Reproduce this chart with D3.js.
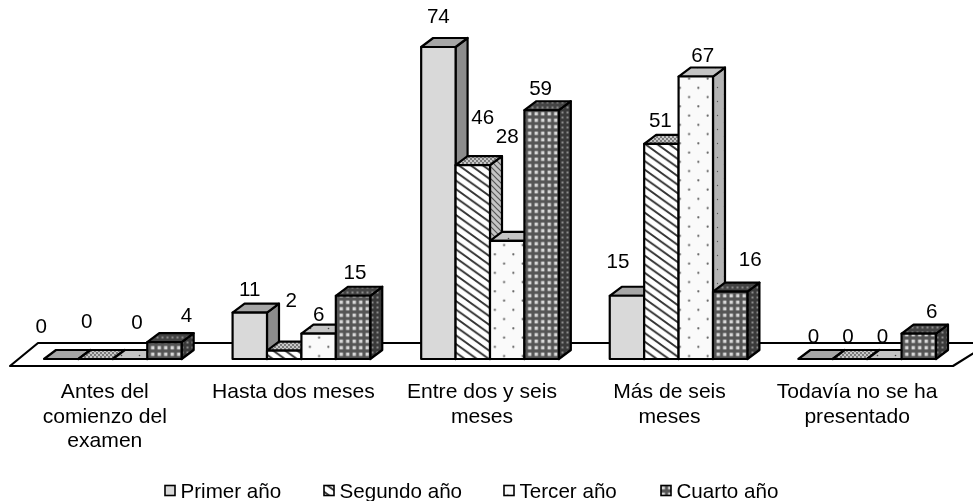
<!DOCTYPE html>
<html>
<head>
<meta charset="utf-8">
<script src="https://cdn.jsdelivr.net/npm/d3@7"></script>
<style>
  html, body { margin: 0; padding: 0; background: #fff; }
  svg { display: block; filter: blur(0.35px); }
  text { font-family: "Liberation Sans", Arial, sans-serif; fill: #000; }
</style>
</head>
<body>
<script>
const categories = [
  ["Antes del", "comienzo del", "examen"],
  ["Hasta dos meses"],
  ["Entre dos y seis", "meses"],
  ["Más de seis", "meses"],
  ["Todavía no se ha", "presentado"],
];
const seriesNames = ["Primer año", "Segundo año", "Tercer año", "Cuarto año"];
const primerAno = [0, 11, 74, 15, 0];
const segundoAno = [0, 2, 46, 51, 0];
const tercerAno = [0, 6, 28, 67, 0];
const cuartoAno = [4, 15, 59, 16, 6];
const seriesValues = [primerAno, segundoAno, tercerAno, cuartoAno];

const width = 973;
const height = 501;
const baseY = 359;
const topY = 47;
const depthX = 12;
const depthY = 9;
const fontSize = 20.6;

// label nudges from the top middle of each bar, [dx, dy] per series then category
const labelNudge = [
  [[-20, -33.5], [0, -24], [0, -31], [-9, -35], [-2, -23]],
  [[-9, -38], [7, -50.5], [10, -48.5], [-1, -24], [-2, -23]],
  [[7, -37], [0, -20], [0, -105], [7, -21.5], [-2, -23]],
  [[22, -27.5], [2, -24], [-1, -23], [20, -32.5], [13, -23]],
];
const categoryNudge = [-8, -8, -8, -9, -10];
const legendX = [164, 323, 503, 660];

const svg = d3.select("body").append("svg")
  .attr("width", width)
  .attr("height", height);

const defs = svg.append("defs");

function newPattern(id, w, h, bg) {
  const p = defs.append("pattern").attr("id", id)
    .attr("patternUnits", "userSpaceOnUse")
    .attr("width", w).attr("height", h);
  p.append("rect").attr("width", w).attr("height", h).attr("fill", bg);
  return p;
}
function hatch(id, bg, fg, w, h, sw) {
  newPattern(id, w, h, bg).append("path")
    .attr("d", `M0 0L${w} ${h}M${-w} 0L${w} ${2 * h}M0 ${-h}L${2 * w} ${h}`)
    .attr("stroke", fg).attr("stroke-width", sw);
}
function dots(id, bg, fg, size, r) {
  newPattern(id, size, size, bg)
    .selectAll("circle").data([[size / 4, size / 4], [3 * size / 4, 3 * size / 4]]).join("circle")
    .attr("cx", (d) => d[0]).attr("cy", (d) => d[1]).attr("r", r).attr("fill", fg);
}
function grid(id, bg, fg, size, hole) {
  newPattern(id, size, size, bg).append("rect")
    .attr("x", (size - hole) / 2).attr("y", (size - hole) / 2)
    .attr("width", hole).attr("height", hole).attr("fill", fg);
}

hatch("hatchFront", "#fff", "#333", 12, 8.6, 1.9);
hatch("hatchSide", "#c4c4c4", "#555", 6, 6, 1.2);
dots("stippleTop", "#c8c8c8", "#555", 4, 0.9);
dots("dotFront", "#fafafa", "#666", 18.5, 1.1);
dots("dotTop", "#c4c4c4", "#444", 18, 0.8);
dots("dotSide", "#b4b4b4", "#555", 14, 0.7);
grid("gridFront", "#555", "#d8d8d8", 6.5, 3.4);
grid("gridTop", "#444", "#8a8a8a", 5, 2);
grid("gridSide", "#3a3a3a", "#8c8c8c", 5, 2);

const seriesFill = [
  { front: "#d9d9d9", top: "#a6a6a6", side: "#8c8c8c" },
  { front: "url(#hatchFront)", top: "url(#stippleTop)", side: "url(#hatchSide)" },
  { front: "url(#dotFront)", top: "url(#dotTop)", side: "url(#dotSide)" },
  { front: "url(#gridFront)", top: "url(#gridTop)", side: "url(#gridSide)" },
];

const x0 = d3.scaleBand().domain(d3.range(categories.length)).range([44, 936]).paddingInner(0.27);
const x1 = d3.scaleBand().domain(d3.range(seriesNames.length)).range([0, x0.bandwidth()]);
const y = d3.scaleLinear().domain([0, 74]).range([baseY, topY]);

// floor
svg.append("path")
  .attr("d", `M10 366L38 343L990 343L953 366Z`)
  .attr("fill", "#fff")
  .attr("stroke", "#000")
  .attr("stroke-width", 2.2)
  .attr("stroke-linejoin", "round");

const bars = [];
categories.forEach((c, i) => {
  seriesValues.forEach((vals, s) => {
    bars.push({ i, s, v: vals[i] });
  });
});

const bar = svg.append("g").selectAll("g").data(bars).join("g")
  .attr("stroke", "#000")
  .attr("stroke-width", 2.2)
  .attr("stroke-linejoin", "round");

function barX(d) { return x0(d.i) + x1(d.s); }

bar.append("path") // side
  .attr("d", (d) => {
    const r = barX(d) + x1.bandwidth();
    return `M${r} ${y(d.v)}L${r + depthX} ${y(d.v) - depthY}L${r + depthX} ${baseY - depthY}L${r} ${baseY}Z`;
  })
  .attr("fill", (d) => seriesFill[d.s].side);

bar.append("path") // top
  .attr("d", (d) => {
    const l = barX(d);
    const r = l + x1.bandwidth();
    return `M${l} ${y(d.v)}L${l + depthX} ${y(d.v) - depthY}L${r + depthX} ${y(d.v) - depthY}L${r} ${y(d.v)}Z`;
  })
  .attr("fill", (d) => seriesFill[d.s].top);

bar.filter((d) => d.v > 0).append("rect") // front
  .attr("x", barX)
  .attr("y", (d) => y(d.v))
  .attr("width", x1.bandwidth())
  .attr("height", (d) => baseY - y(d.v))
  .attr("fill", (d) => seriesFill[d.s].front);

svg.append("g").selectAll("text").data(bars).join("text")
  .attr("x", (d) => barX(d) + x1.bandwidth() / 2 + labelNudge[d.s][d.i][0])
  .attr("y", (d) => y(d.v) + labelNudge[d.s][d.i][1])
  .attr("dy", "0.36em")
  .attr("text-anchor", "middle")
  .attr("font-size", fontSize)
  .text((d) => d.v);

// category labels
svg.append("g").selectAll("text").data(categories).join("text")
  .attr("x", (d, i) => x0(i) + x0.bandwidth() / 2 + categoryNudge[i])
  .attr("y", 398)
  .attr("text-anchor", "middle")
  .attr("font-size", 21.1)
  .selectAll("tspan").data((d) => d).join("tspan")
  .attr("x", function () { return d3.select(this.parentNode).attr("x"); })
  .attr("dy", (d, i) => (i ? 24.5 : 0))
  .text((d) => d);

// legend
const legend = svg.append("g").selectAll("g").data(seriesNames).join("g")
  .attr("transform", (d, i) => `translate(${legendX[i]},491)`);
legend.append("rect")
  .attr("x", 1).attr("y", -5.5).attr("width", 10).attr("height", 10)
  .attr("fill", (d, i) => seriesFill[i].front)
  .attr("stroke", "#000").attr("stroke-width", 1.6);
legend.append("text")
  .attr("x", 16.5).attr("y", 6.5)
  .attr("font-size", fontSize)
  .text((d) => d);
</script>
</body>
</html>
